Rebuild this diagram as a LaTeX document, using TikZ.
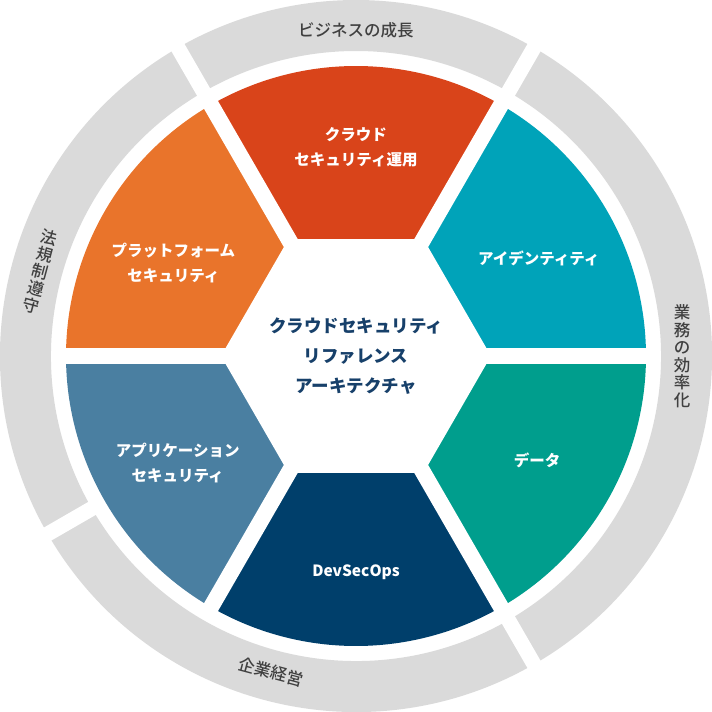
\documentclass[tikz,border=0pt]{standalone}
\usepackage{fontspec}
\newfontfamily\jpfont{Noto Sans CJK JP}
\newfontfamily\jpmedium{Noto Sans CJK JP Medium}

\definecolor{cloudred}{HTML}{D9441A}
\definecolor{platorange}{HTML}{E9742B}
\definecolor{idteal}{HTML}{00A3B9}
\definecolor{datagreen}{HTML}{009E8D}
\definecolor{devnavy}{HTML}{003F6B}
\definecolor{appblue}{HTML}{4A7FA1}
\definecolor{ringgray}{HTML}{DADADA}
\definecolor{ringtext}{HTML}{404040}
\definecolor{titlenavy}{HTML}{17406A}

\tikzset{
    seclabel/.style={text=white, align=center, font=\jpfont\bfseries\fontsize{15.5}{25}\selectfont},
    ringlabel/.style={text=ringtext, align=center, font=\jpmedium\fontsize{16.5}{17.5}\selectfont},
    titlelabel/.style={text=titlenavy, align=center, font=\jpfont\bfseries\fontsize{17.5}{30}\selectfont},
    ringgap/.style={draw=white, line width=15pt},
    secgap/.style={draw=white, line width=16pt}
}

\begin{document}
\begin{tikzpicture}[x=1pt, y=1pt]
    \useasboundingbox (-356,-356) rectangle (356,356);

    \begin{scope} %outer ring
        \fill[ringgray] (60:356) arc[start angle=60, end angle=120, radius=356] -- (120:305) arc[start angle=120, end angle=60, radius=305] -- cycle;
        \fill[ringgray] (-60:356) arc[start angle=-60, end angle=60, radius=356] -- (60:305) arc[start angle=60, end angle=-60, radius=305] -- cycle;
        \fill[ringgray] (120:356) arc[start angle=120, end angle=210, radius=356] -- (210:305) arc[start angle=210, end angle=120, radius=305] -- cycle;
        \fill[ringgray] (210:356) arc[start angle=210, end angle=300, radius=356] -- (300:305) arc[start angle=300, end angle=210, radius=305] -- cycle;
        \path[ringgap] (60:298) -- (60:362);
        \path[ringgap] (120:298) -- (120:362);
        \path[ringgap] (210:298) -- (210:362);
        \path[ringgap] (300:298) -- (300:362);
    \end{scope}

    \begin{scope} %sectors
        \fill[idteal] (0,0) -- (0:290) arc[start angle=0, end angle=60, radius=290] -- cycle;
        \fill[cloudred] (0,0) -- (60:290) arc[start angle=60, end angle=120, radius=290] -- cycle;
        \fill[platorange] (0,0) -- (120:290) arc[start angle=120, end angle=180, radius=290] -- cycle;
        \fill[appblue] (0,0) -- (180:290) arc[start angle=180, end angle=240, radius=290] -- cycle;
        \fill[devnavy] (0,0) -- (240:290) arc[start angle=240, end angle=300, radius=290] -- cycle;
        \fill[datagreen] (0,0) -- (300:290) arc[start angle=300, end angle=360, radius=290] -- cycle;
        \path[secgap] (0,0) -- (0:296);
        \path[secgap] (0,0) -- (60:296);
        \path[secgap] (0,0) -- (120:296);
        \path[secgap] (0,0) -- (180:296);
        \path[secgap] (0,0) -- (240:296);
        \path[secgap] (0,0) -- (300:296);
        \fill[white] (0:135) -- (60:135) -- (120:135) -- (180:135) -- (240:135) -- (300:135) -- cycle;
    \end{scope}

    \node[titlelabel] (title) at (0,0) {クラウドセキュリティ\\リファレンス\\アーキテクチャ};

    \begin{scope}[every node/.style={seclabel}]
        \node (cloudops) at (0,209) {クラウド\\セキュリティ運用};
        \node (platform) at (153:205) {プラットフォーム\\セキュリティ};
        \node (identity) at (28:207) {アイデンティティ};
        \node (data) at (-30:209) {データ};
        \node (devsecops) at (0,-216) {DevSecOps};
        \node (application) at (-149:208) {アプリケーション\\セキュリティ};
    \end{scope}

    \begin{scope}[every node/.style={ringlabel}]
        \node (growth) at (90:326) {ビジネスの成長};
        \node (efficiency) at (0:326) {業\\務\\の\\効\\率\\化};
        \node[rotate=-15] (compliance) at (165:327) {法\\規\\制\\遵\\守};
        \node[rotate=-15] (management) at (-105:327) {企業経営};
    \end{scope}

\end{tikzpicture}
\end{document}
